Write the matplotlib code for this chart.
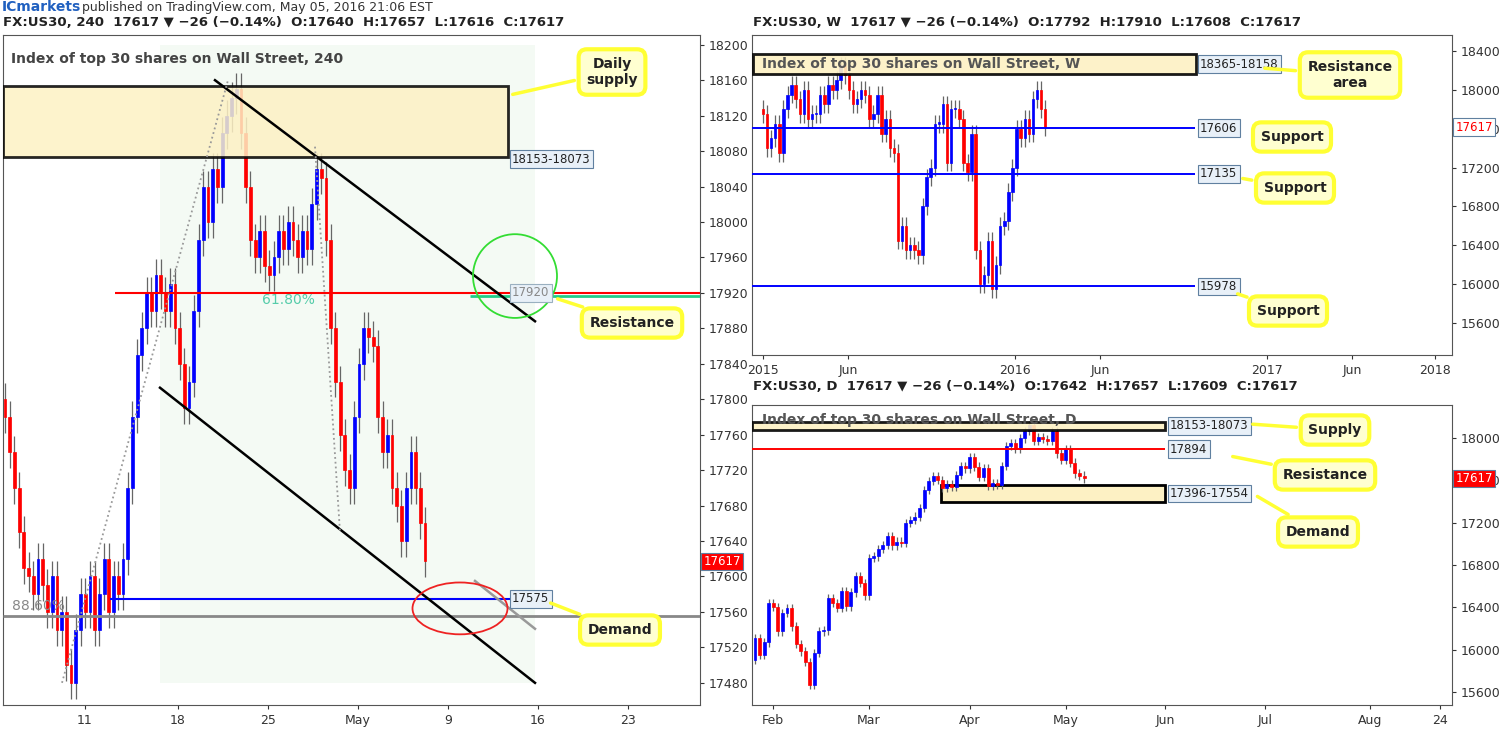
import matplotlib
matplotlib.use("Agg")
import matplotlib.pyplot as plt
from matplotlib.patches import Rectangle, Ellipse
import numpy as np

# ---------- data ----------
h4_close = [17780,17740,17700,17650,17610,
            17600,17580,17620,17590,17560,17600,17540,17560,17500,
            17480,17540,17580,17560,17600,17540,17580,17620,17560,17600,17580,
            17620,17700,17780,17850,17880,17920,17900,17940,17920,
            17900,17930,17880,17840,17790,
            17820,17900,17980,18040,18000,18060,18040,18100,18120,18140,18150,
            18100,18040,17980,17960,17990,17950,17940,
            17960,17990,17970,18000,17980,17960,17990,17970,18020,18060,
            18050,17980,17880,17820,17760,17720,17700,
            17780,17840,17880,17870,17860,
            17780,17740,17760,17700,17680,17640,17700,17740,17700,17660,17617]
h4_first_open = 17800
h4_ticks = ["11", "18", "25", "May", "9", "16", "23"]

w_close = [17750,17400,17500,17650, 17350,17800,17950,18050, 17900,17750,18000,17700,17750,
           17750,17950,17850,18050, 18000,18100,18250,18150,18000, 17850,17900,18000,17950,
           17700,17750,17950,17550,17700, 17400,17350,16450,16600, 16350,16400,16350,16300,
           16800,17100,17200,17650,17650, 17850,17250,17800,17800, 17700,17250,17150,17550,
           16350,16000,16100,16450, 15950,16200,16600,16650, 16950,17200,17600,17500,17700,
           17550,17900,18000,17800, 17617]
w_first_open = 17800
w_ticks = ["2015", "Jun", "2016", "Jun", "2017", "Jun", "2018"]

d_close = [16109,15952,16068,16440,
           16402,16172,16345,16392,16219,16053,15984,15883,15669,15968,16172,16182,16487,16440,16392,16550,16408,16540,16697,16628,16512,16864,
           16880,16952,16990,17075,16984,17021,17006,17194,17226,17257,17336,17509,17594,17641,17603,17525,17565,17540,17650,17735,
           17713,17817,17729,17635,17713,17547,17572,17556,17735,17924,17949,17896,17996,18066,18119,17974,18006,17990,17974,18066,17855,
           17792,17893,17767,17666,17644,17617]
d_first_open = 15905
d_ticks = ["Feb", "Mar", "Apr", "May", "Jun", "Jul", "Aug", "24"]

BLUE = "#0000ff"; RED = "#ff0000"; FRAME = "#555555"

def candles(ax, xs, closes, first_open, width, wick, minbody):
    opens = [first_open] + closes[:-1]
    for x, o, c in zip(xs, opens, closes):
        col = BLUE if c >= o else RED
        ax.vlines(x, min(o, c) - wick, max(o, c) + wick, color="#666666", lw=0.9, zorder=2)
        ax.add_patch(Rectangle((x - width / 2, min(o, c)), width, max(abs(c - o), minbody),
                               fc=col, ec=col, lw=0.5, zorder=3))

def style(ax, ylim, yticks):
    ax.set_ylim(*ylim)
    ax.yaxis.tick_right()
    ax.set_yticks(yticks)
    for s in ax.spines.values():
        s.set_color(FRAME)
    ax.tick_params(labelsize=9, colors="#333333", length=3)
    ax.set_facecolor("white")

def callout(ax, text, xy, xytext, fs=10):
    ax.annotate(text, xy=xy, xytext=xytext, xycoords="figure pixels", textcoords="figure pixels",
                ha="center", va="center", fontsize=fs, fontweight="bold", color="#222222",
                bbox=dict(boxstyle="round,pad=0.55,rounding_size=0.6", fc="#ffffd0", ec="#ffff33", lw=3),
                arrowprops=dict(arrowstyle="-", color="#ffff33", lw=2.5), zorder=20, annotation_clip=False)

def plabel(ax, y, text, fc="#e8f0f8", tc="#222222", x=1.005):
    ax.text(x, y, text, transform=ax.get_yaxis_transform(), fontsize=8.5, color=tc, va="center",
            ha="left", bbox=dict(boxstyle="square,pad=0.2", fc=fc, ec="#6080a0", lw=0.8), zorder=30, clip_on=False)

def boxlabel(ax, x, y, t, color="#222222", ec="#6080a0"):
    ax.text(x, y, t, fontsize=8.5, va="center", color=color,
            bbox=dict(boxstyle="square,pad=0.2", fc="#e8f0f8", ec=ec, lw=0.8), zorder=9)

W, H = 1500, 740
fig = plt.figure(figsize=(15, 7.4), dpi=100)
def fp(x, y):
    return (x, H - y)

# ---------- left 4h ----------
ax1 = fig.add_axes([3 / W, 35 / H, 697 / W, 670 / H])
ax1.set_xlim(3 / 18, 700 / 18)
style(ax1, (17455, 18211), np.arange(17480, 18201, 40))
xs1 = [(5 + i * 4.72) / 18 for i in range(len(h4_close))]
ax1.add_patch(Rectangle((160 / 18, 17480), 375 / 18, 720, fc="#eef7ee", ec="none", alpha=0.6, zorder=0))
candles(ax1, xs1, h4_close, h4_first_open, 2.8 / 18, 18, 3)
ax1.add_patch(Rectangle((3 / 18, 18073), 505 / 18, 80, fc="#fdf1c4", ec="black", lw=2, zorder=4, alpha=0.85))
ax1.hlines(17920, 115 / 18, 700 / 18, color=RED, lw=1.5, zorder=5)
ax1.hlines(17917, 470 / 18, 700 / 18, color="#22cc88", lw=2, zorder=5)
ax1.hlines(17575, 110 / 18, 510 / 18, color=BLUE, lw=1.5, zorder=5)
ax1.hlines(17555, 3 / 18, 700 / 18, color="#888888", lw=2, zorder=5)
ax1.text(12 / 18, 17562, "88.60%", color="#888888", fontsize=10, zorder=6)
ax1.text(262 / 18, 17908, "61.80%", color="#55ccaa", fontsize=10, zorder=6)
ax1.plot([215 / 18, 535 / 18], [18160, 17888], color="black", lw=1.8, zorder=6)
ax1.plot([160 / 18, 535 / 18], [17813, 17480], color="black", lw=1.8, zorder=6)
ax1.plot([475 / 18, 535 / 18], [17595, 17541], color="#999999", lw=1.8, zorder=6)
ax1.plot([62 / 18, 228 / 18], [17480, 18160], color="#999999", lw=1.3, ls=":", zorder=6)
ax1.plot([315 / 18, 340 / 18], [18085, 17650], color="#999999", lw=1.3, ls=":", zorder=6)
ax1.add_patch(Ellipse((515 / 18, 17939), 84 / 18, 84 / 0.889, fc="none", ec="#33dd33", lw=1.3, zorder=7))
ax1.add_patch(Ellipse((460 / 18, 17564), 95 / 18, 52 / 0.889, fc="none", ec="#ee2222", lw=1.3, zorder=7))
ax1.set_xticks([85 / 18, 178 / 18, 268 / 18, 358 / 18, 448 / 18, 538 / 18, 628 / 18])
ax1.set_xticklabels(h4_ticks)
ax1.text(0.012, 0.975, "Index of top 30 shares on Wall Street, 240", transform=ax1.transAxes,
         fontsize=10, fontweight="bold", color="#444444", va="top")
boxlabel(ax1, 512 / 18, 18071, "18153-18073")
boxlabel(ax1, 512 / 18, 17920, "17920", color="#888888", ec="#9ab0c0")
boxlabel(ax1, 512 / 18, 17575, "17575")
plabel(ax1, 17617, "17617", fc=RED, tc="white")
callout(ax1, "Daily\nsupply", fp(510, 95), fp(612, 72))
callout(ax1, "Resistance", fp(555, 298), fp(632, 323))
callout(ax1, "Demand", fp(548, 602), fp(620, 630))

# ---------- right top weekly ----------
ax2 = fig.add_axes([752 / W, (H - 355) / H, 700 / W, 320 / H])
sp = 4.09
ax2.set_xlim((752 - 763) / sp, (1452 - 763) / sp)
style(ax2, (15273, 18563), np.arange(15600, 18401, 400))
xs2 = list(range(len(w_close)))
candles(ax2, xs2, w_close, w_first_open, 0.6, 90, 15)
ax2.add_patch(Rectangle((-2.5, 18158), (1195 - 752) / sp, 207, fc="#fdf1c4", ec="black", lw=2, zorder=4, alpha=0.9))
for lvl in [17606, 17135, 15978]:
    ax2.hlines(lvl, -3, (1195 - 763) / sp, color=BLUE, lw=1.4, zorder=5)
ax2.set_xticks([(p - 763) / sp for p in [763, 848, 1015, 1100, 1267, 1352, 1435]])
ax2.set_xticklabels(w_ticks)
ax2.text(0.015, 0.91, "Index of top 30 shares on Wall Street, W", transform=ax2.transAxes,
         fontsize=10, fontweight="bold", color="#555555", va="center", zorder=10)
for lvl, t in [(18262, "18365-18158"), (17606, "17606"), (17135, "17135"), (15978, "15978")]:
    boxlabel(ax2, (1200 - 763) / sp, lvl, t)
plabel(ax2, 17617, "17617", fc="white", tc=RED)
callout(ax2, "Resistance\narea", fp(1262, 68), fp(1350, 75))
callout(ax2, "Support", fp(1262, 128), fp(1292, 137))
callout(ax2, "Support", fp(1240, 178), fp(1295, 188))
callout(ax2, "Support", fp(1235, 293), fp(1288, 311))

# ---------- right bottom daily ----------
ax3 = fig.add_axes([752 / W, 35 / H, 700 / W, 300 / H])
dsp = 4.57
ax3.set_xlim((752 - 755) / dsp, (1452 - 755) / dsp)
style(ax3, (15477, 18311), np.arange(15600, 18001, 400))
xs3 = list(range(len(d_close)))
candles(ax3, xs3, d_close, d_first_open, 0.65, 40, 12)
ax3.add_patch(Rectangle(((752 - 755) / dsp, 18073), (1165 - 752) / dsp, 80, fc="#fdf1c4", ec="black", lw=2, zorder=4, alpha=0.9))
ax3.add_patch(Rectangle(((941 - 755) / dsp, 17396), (1165 - 941) / dsp, 158, fc="#fdf1c4", ec="black", lw=2, zorder=1))
ax3.hlines(17894, (752 - 755) / dsp, (1165 - 755) / dsp, color=RED, lw=1.4, zorder=5)
ax3.set_xticks([(p - 755) / dsp for p in [773, 869, 970, 1066, 1165, 1265, 1370, 1440]])
ax3.set_xticklabels(d_ticks)
ax3.text(0.015, 0.95, "Index of top 30 shares on Wall Street, D", transform=ax3.transAxes,
         fontsize=10, fontweight="bold", color="#555555", va="center", zorder=10)
for lvl, t in [(18113, "18153-18073"), (17894, "17894"), (17475, "17396-17554")]:
    boxlabel(ax3, (1170 - 755) / dsp, lvl, t)
plabel(ax3, 17617, "17617", fc=RED, tc="white")
callout(ax3, "Supply", fp(1250, 424), fp(1335, 430))
callout(ax3, "Resistance", fp(1230, 456), fp(1325, 475))
callout(ax3, "Demand", fp(1255, 495), fp(1318, 532))

# ---------- header texts ----------
fig.text(2 / W, 1 - 7 / H, "ICmarkets", color="#2060c0", fontsize=10, fontweight="bold", va="center")
fig.text(82 / W, 1 - 7 / H, "published on TradingView.com, May 05, 2016 21:06 EST", color="#333333", fontsize=9, va="center")
fig.text(3 / W, 1 - 23 / H, "FX:US30, 240  17617 ▼ −26 (−0.14%)  O:17640  H:17657  L:17616  C:17617",
         fontsize=9.5, fontweight="bold", color="#222222", va="center")
fig.text(753 / W, 1 - 23 / H, "FX:US30, W  17617 ▼ −26 (−0.14%)  O:17792  H:17910  L:17608  C:17617",
         fontsize=9.5, fontweight="bold", color="#222222", va="center")
fig.text(753 / W, 1 - 387 / H, "FX:US30, D  17617 ▼ −26 (−0.14%)  O:17642  H:17657  L:17609  C:17617",
         fontsize=9.5, fontweight="bold", color="#222222", va="center")

fig.savefig("out.png", dpi=100, facecolor="white")
